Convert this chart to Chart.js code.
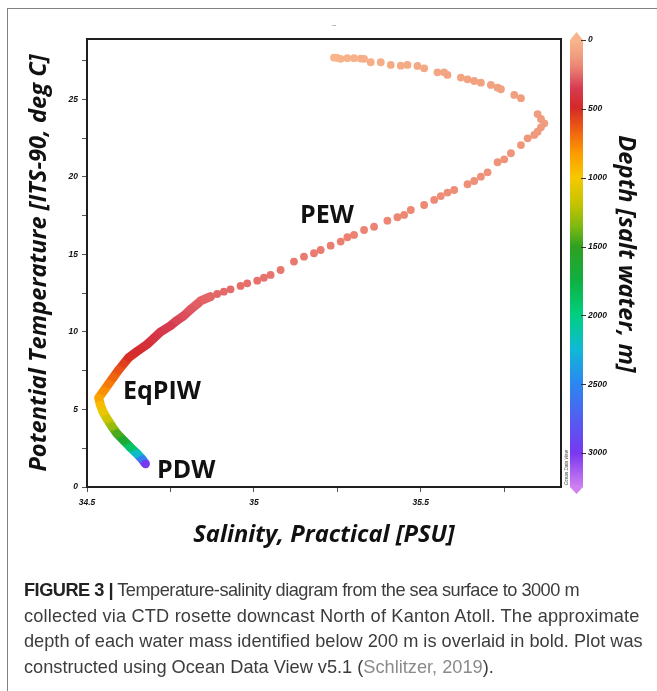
<!DOCTYPE html>
<html>
<head>
<meta charset="utf-8">
<script src="https://cdn.jsdelivr.net/npm/chart.js@4.4.1/dist/chart.umd.min.js"></script>
<style>
  html, body { margin: 0; padding: 0; background: #fff; }
  #wrap { position: relative; width: 657px; height: 691px; overflow: hidden; }
  #frame { position: absolute; left: 7px; top: 8px; width: 700px; height: 700px; border-left: 1px solid #808080; border-top: 1px solid #808080; }
  #dash { position: absolute; left: 332px; top: 25px; width: 4px; height: 1px; background: #bbb; }
  canvas { position: absolute; left: 0; top: 0; }
  .cap { position: absolute; left: 24px; white-space: nowrap; font-family: 'Liberation Sans', Arial, sans-serif; font-size: 18.2px; line-height: 20px; color: #3c3c3c; }
  .cap b { color: #222; }
  .cap .ref { color: #8a8a8a; }
</style>
</head>
<body>
<div id="wrap">
  <div id="frame"></div>
  <div id="dash"></div>
  <canvas id="tsDiagram" width="657" height="691"></canvas>
  <div class="cap" style="top:580px;letter-spacing:-0.5px"><b>FIGURE 3 |</b> Temperature-salinity diagram from the sea surface to 3000 m</div>
  <div class="cap" style="top:606px;letter-spacing:0.17px">collected via CTD rosette downcast North of Kanton Atoll. The approximate</div>
  <div class="cap" style="top:631px">depth of each water mass identified below 200 m is overlaid in bold. Plot was</div>
  <div class="cap" style="top:657px">constructed using Ocean Data View v5.1 (<span class="ref">Schlitzer, 2019</span>).</div>
</div>
<script>
// CTD downcast (surface first)
const salinity = [
  35.24, 35.25, 35.26, 35.28, 35.30, 35.32, 35.33, 35.35, 35.38, 35.41,
  35.44, 35.46, 35.49, 35.51, 35.55, 35.57, 35.58, 35.62, 35.64, 35.66,
  35.68, 35.71, 35.73, 35.74, 35.78, 35.80, 35.85, 35.86, 35.87, 35.86,
  35.85, 35.84, 35.82, 35.80, 35.77, 35.75, 35.73, 35.70, 35.68, 35.66,
  35.64, 35.60, 35.58, 35.56, 35.54, 35.51, 35.47, 35.45, 35.43, 35.40,
  35.36, 35.33, 35.30, 35.28, 35.26, 35.23, 35.20, 35.18, 35.15, 35.12,
  35.08, 35.05, 35.03, 35.01, 34.98, 34.96, 34.93, 34.91, 34.89, 34.87,
  34.84, 34.83, 34.81, 34.79, 34.77, 34.75, 34.72, 34.70, 34.68, 34.65,
  34.625, 34.61, 34.595, 34.58, 34.565, 34.55, 34.535, 34.54, 34.548, 34.56,
  34.575, 34.59, 34.61, 34.63, 34.65, 34.665, 34.675
];
const temperature = [
  27.70, 27.68, 27.62, 27.66, 27.66, 27.64, 27.62, 27.40, 27.40, 27.23,
  27.18, 27.23, 27.16, 27.01, 26.75, 26.75, 26.58, 26.41, 26.30, 26.19,
  26.08, 25.94, 25.76, 25.66, 25.29, 25.08, 24.06, 23.74, 23.46, 23.20,
  22.92, 22.71, 22.49, 22.06, 21.53, 21.14, 20.95, 20.30, 20.02, 19.74,
  19.53, 19.16, 18.99, 18.77, 18.52, 18.19, 17.87, 17.55, 17.40, 17.18,
  16.79, 16.58, 16.26, 16.11, 15.83, 15.57, 15.29, 15.08, 14.86, 14.54,
  14.00, 13.68, 13.50, 13.31, 13.14, 12.97, 12.75, 12.60, 12.45, 12.28,
  12.00, 11.80, 11.45, 11.05, 10.75, 10.40, 10.00, 9.60, 9.20, 8.75,
  8.35, 7.95, 7.55, 7.10, 6.65, 6.20, 5.75, 5.30, 4.85, 4.40,
  3.90, 3.45, 3.00, 2.55, 2.15, 1.80, 1.50
];
const depth = [
  0, 5, 10, 15, 20, 25, 30, 35, 40, 45,
  50, 55, 60, 65, 70, 74, 78, 82, 86, 90,
  93, 96, 99, 102, 106, 110, 115, 118, 121, 124,
  127, 130, 133, 137, 141, 145, 148, 152, 155, 158,
  161, 164, 167, 170, 173, 176, 180, 183, 186, 189,
  193, 196, 199, 202, 205, 208, 211, 214, 217, 220,
  224, 228, 232, 236, 240, 244, 248, 252, 256, 260,
  268, 276, 290, 310, 330, 350, 375, 400, 430, 470,
  510, 560, 610, 670, 730, 790, 860, 950, 1050, 1160,
  1300, 1450, 1650, 1900, 2200, 2550, 3000
];
const depthTicks = [0, 500, 1000, 1500, 2000, 2500, 3000];
const waterMasses = ['PEW', 'EqPIW', 'PDW'];

// ODV style colour map for depth
const depthStops = [
  [0, '#f8b58b'], [120, '#f09c7e'], [200, '#ec8272'], [280, '#e05c64'],
  [350, '#d63c50'], [490, '#d42828'], [650, '#ee5e12'], [820, '#fd9a00'],
  [1000, '#f6c800'], [1190, '#c4c400'], [1360, '#7cb812'], [1500, '#30a020'],
  [1740, '#10b040'], [2000, '#00d080'], [2250, '#10b8d8'], [2490, '#2a88f0'],
  [2740, '#5060f0'], [3000, '#7838f0'], [3250, '#d080f0']
];

function hexRgb(h) {
  return [1, 3, 5].map(i => parseInt(h.substr(i, 2), 16));
}
function depthColour(d) {
  let i = 1;
  while (i < depthStops.length - 1 && depthStops[i][0] < d) i++;
  const [d0, c0] = depthStops[i - 1], [d1, c1] = depthStops[i];
  const t = Math.max(0, Math.min(1, (d - d0) / (d1 - d0)));
  const a = hexRgb(c0), b = hexRgb(c1);
  const c = a.map((v, k) => Math.round(v + (b[k] - v) * t));
  return `rgb(${c[0]},${c[1]},${c[2]})`;
}

const points = salinity.map((s, i) => ({ x: s, y: temperature[i] }));
const deepIdx = depth.map((d, i) => i).filter(i => depth[i] >= 260);
const deepPoints = deepIdx.map(i => points[i]);

function deepGradient(context) {
  const { chart } = context;
  if (!chart.chartArea) return '#d42828';
  const y = chart.scales.y;
  const y0 = y.getPixelForValue(temperature[deepIdx[0]]);
  const y1 = y.getPixelForValue(temperature[deepIdx[deepIdx.length - 1]]);
  const g = chart.ctx.createLinearGradient(0, y0, 0, y1);
  deepIdx.forEach(i => {
    const f = (y.getPixelForValue(temperature[i]) - y0) / (y1 - y0);
    g.addColorStop(Math.max(0, Math.min(1, f)), depthColour(depth[i]));
  });
  return g;
}

const tickFont = { family: "'Liberation Sans', Arial, sans-serif", size: 8.5, weight: 'bold', style: 'italic' };
const titleFont = { family: "'Open Sans', sans-serif", size: 23.7, weight: 'bold', style: 'italic' };

function keepSteps(step) {
  return axis => {
    axis.ticks = axis.ticks.filter(t => Math.abs(t.value / step - Math.round(t.value / step)) < 1e-6);
  };
}

const extras = {
  id: 'extras',
  afterDraw(chart) {
    const { ctx, chartArea: a, scales } = chart;
    ctx.save();
    // plot frame
    ctx.strokeStyle = '#1e1e1e';
    ctx.lineWidth = 2;
    ctx.strokeRect(a.left, a.top, a.right - a.left, a.bottom - a.top);

    // colour bar
    const d = scales.depth;
    const bx = 570, bw = 13;
    const top = d.getPixelForValue(0), bot = d.getPixelForValue(3247);
    const g = ctx.createLinearGradient(0, top, 0, bot);
    depthStops.forEach(([v, c]) => g.addColorStop(Math.min(1, v / 3247), c));
    ctx.fillStyle = g;
    ctx.fillRect(bx, top, bw, bot - top);
    ctx.fillStyle = depthStops[0][1];
    ctx.beginPath();
    ctx.moveTo(bx, top); ctx.lineTo(bx + bw / 2, top - 8); ctx.lineTo(bx + bw, top); ctx.closePath(); ctx.fill();
    ctx.fillStyle = depthStops[depthStops.length - 1][1];
    ctx.beginPath();
    ctx.moveTo(bx, bot); ctx.lineTo(bx + bw / 2, bot + 7); ctx.lineTo(bx + bw, bot); ctx.closePath(); ctx.fill();
    ctx.strokeStyle = '#333';
    ctx.lineWidth = 1;
    depthTicks.forEach(v => {
      const py = Math.round(d.getPixelForValue(v)) + 0.5;
      ctx.beginPath(); ctx.moveTo(bx + bw - 2, py); ctx.lineTo(bx + bw + 3, py); ctx.stroke();
    });

    // colour bar title
    ctx.save();
    ctx.translate(626, 254);
    ctx.rotate(Math.PI / 2);
    ctx.fillStyle = '#111';
    ctx.font = `italic bold ${titleFont.size}px 'Open Sans', sans-serif`;
    ctx.textAlign = 'center';
    ctx.textBaseline = 'middle';
    ctx.fillText('Depth [salt water, m]', 0, 0);
    ctx.restore();

    // Ocean Data View stamp
    ctx.save();
    ctx.translate(567, 485);
    ctx.rotate(-Math.PI / 2);
    ctx.fillStyle = '#333';
    ctx.font = "italic 4.5px 'Liberation Sans', Arial, sans-serif";
    ctx.textBaseline = 'middle';
    ctx.fillText('Ocean Data View', 0, 0);
    ctx.restore();

    // water mass labels
    const x = scales.x, y = scales.y;
    const at = { PEW: [35.138, 17.03], EqPIW: [34.608, 5.66], PDW: [34.71, 0.58] };
    ctx.fillStyle = '#111';
    ctx.font = "bold 25px 'Open Sans', sans-serif";
    ctx.textBaseline = 'alphabetic';
    waterMasses.forEach(name => {
      const [s, t] = at[name];
      ctx.fillText(name, x.getPixelForValue(s), y.getPixelForValue(t));
    });
    ctx.restore();
  }
};

new Chart(document.getElementById('tsDiagram'), {
  type: 'scatter',
  data: {
    datasets: [
      {
        label: 'CTD',
        data: points,
        pointRadius: 3.9,
        pointHoverRadius: 3.9,
        pointBorderWidth: 0,
        pointBackgroundColor: depth.map(depthColour),
        order: 1
      },
      {
        label: 'deep trace',
        type: 'line',
        data: deepPoints,
        showLine: true,
        pointRadius: 0,
        borderWidth: 9,
        borderCapStyle: 'round',
        borderJoinStyle: 'round',
        borderColor: deepGradient,
        tension: 0,
        order: 2
      }
    ]
  },
  options: {
    responsive: false,
    animation: false,
    events: [],
    layout: { padding: { left: 0, right: 0, top: 39, bottom: 134 } },
    plugins: { legend: { display: false }, tooltip: { enabled: false } },
    scales: {
      x: {
        type: 'linear',
        min: 34.5,
        max: 35.92,
        afterBuildTicks: keepSteps(0.25),
        afterFit: s => { s.height = 70; },
        ticks: {
          stepSize: 0.25,
          padding: 6,
          color: '#111',
          font: tickFont,
          maxRotation: 0,
          autoSkip: false,
          callback: v => (Math.abs(v * 2 - Math.round(v * 2)) < 1e-6 ? String(Math.round(v * 10) / 10) : '')
        },
        grid: { drawOnChartArea: false, drawTicks: true, tickLength: 5, color: '#555' },
        border: { display: false },
        title: { display: true, text: 'Salinity, Practical [PSU]', color: '#111', font: titleFont, padding: { top: 0, bottom: 8 } }
      },
      y: {
        type: 'linear',
        position: 'left',
        min: 0,
        max: 28.9,
        afterBuildTicks: keepSteps(2.5),
        afterFit: s => { s.width = 87; },
        ticks: {
          stepSize: 2.5,
          padding: 4,
          color: '#111',
          font: tickFont,
          autoSkip: false,
          callback: v => (Math.abs(v / 5 - Math.round(v / 5)) < 1e-6 ? String(Math.round(v)) : '')
        },
        grid: { drawOnChartArea: false, drawTicks: true, tickLength: 5, color: '#555' },
        border: { display: false },
        title: { display: true, text: 'Potential Temperature [ITS-90, deg C]', color: '#111', font: titleFont, padding: { top: 25, bottom: 0 } }
      },
      depth: {
        type: 'linear',
        position: 'right',
        reverse: true,
        min: -7.3,
        max: 3247,
        afterBuildTicks: axis => { axis.ticks = depthTicks.map(v => ({ value: v })); },
        afterFit: s => { s.width = 96; },
        ticks: { padding: 19, color: '#111', font: tickFont, autoSkip: false, callback: v => String(v) },
        grid: { display: false },
        border: { display: false },
        title: { display: false }
      }
    }
  },
  plugins: [extras]
});
</script>
</body>
</html>
